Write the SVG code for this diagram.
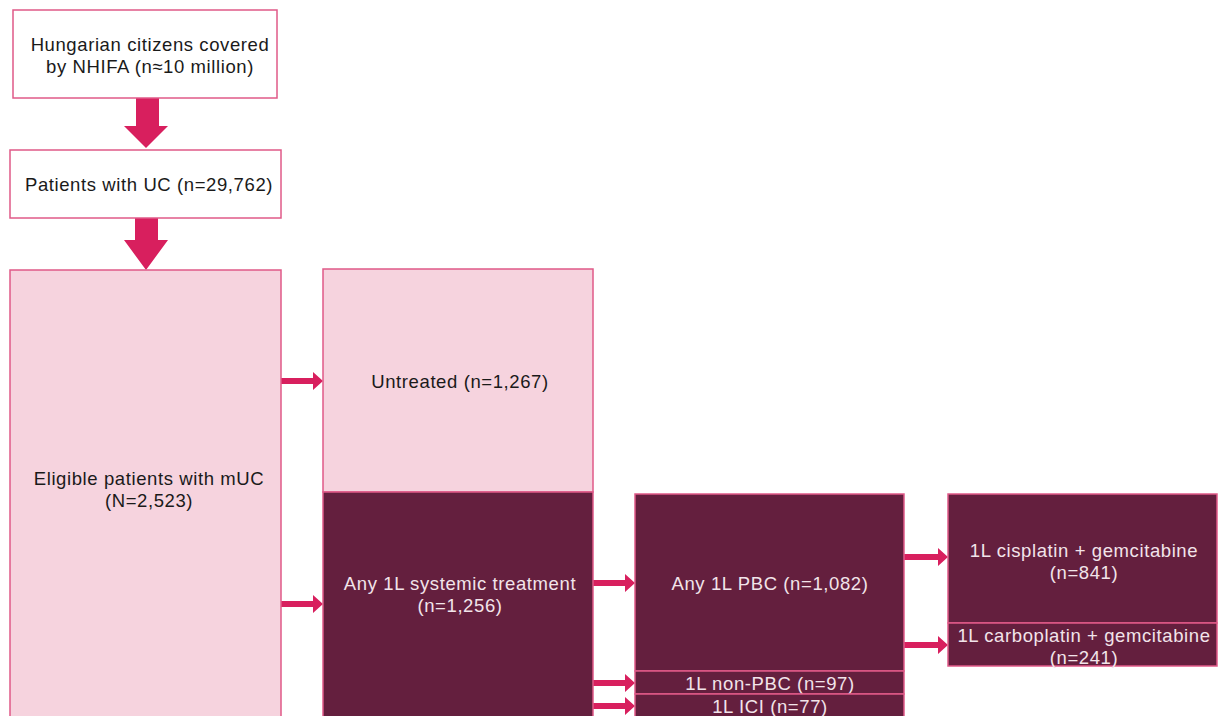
<svg xmlns="http://www.w3.org/2000/svg" width="1220" height="716" viewBox="0 0 1220 716">
<style>
.wbox{fill:#ffffff;stroke:#e05a88;stroke-width:1.5}
.pbox{fill:#f6d3de;stroke:#e05a88;stroke-width:1.5}
.dbox{fill:#641f3e;stroke:#e05a88;stroke-width:1.5}
.t{font-family:"Liberation Sans",Arial,sans-serif;font-size:18.5px;letter-spacing:0.6px;text-anchor:middle;fill:#1a1a1a}
.tw{font-family:"Liberation Sans",Arial,sans-serif;font-size:18.5px;letter-spacing:0.6px;text-anchor:middle;fill:#f2e4ea}
.arr{fill:#d81f5e}
</style>
<rect width="1220" height="716" fill="#ffffff"/>
<g id="connectors">
<polygon class="arr" points="136,98 159,98 159,126 168,126 146,148 124,126 136,126"/>
<polygon class="arr" points="135,218 158,218 158,240 168,240 146,270 124,240 135,240"/>
<polygon class="arr" points="281,378 313,378 313,372 323,381 313,390 313,384 281,384"/>
<polygon class="arr" points="281,601 313,601 313,595 323,604 313,613 313,607 281,607"/>
<polygon class="arr" points="593,580 625,580 625,574 635,583 625,592 625,586 593,586"/>
<polygon class="arr" points="593,680 625,680 625,674 635,683 625,692 625,686 593,686"/>
<polygon class="arr" points="593,703 625,703 625,697 635,706 625,715 625,709 593,709"/>
<polygon class="arr" points="904,554 938,554 938,548 948,557 938,566 938,560 904,560"/>
<polygon class="arr" points="904,642 938,642 938,636 948,645 938,654 938,648 904,648"/>
</g>
<g id="n_hungarian">
<rect class="wbox" x="13" y="10" width="264" height="88"/>
<text class="t" x="150" y="51">Hungarian citizens covered</text>
<text class="t" x="150" y="73">by NHIFA (n≈10 million)</text>
</g>
<g id="n_uc">
<rect class="wbox" x="10" y="150" width="271" height="68"/>
<text class="t" x="149" y="191">Patients with UC (n=29,762)</text>
</g>
<g id="n_eligible">
<rect class="pbox" x="10" y="270" width="271" height="450"/>
<text class="t" x="149" y="485">Eligible patients with mUC</text>
<text class="t" x="149" y="507">(N=2,523)</text>
</g>
<g id="n_untreated">
<rect class="pbox" x="323" y="269" width="270" height="223"/>
<text class="t" x="460" y="388">Untreated (n=1,267)</text>
</g>
<g id="n_any1l">
<rect class="dbox" x="323" y="492" width="270" height="230"/>
<text class="tw" x="460" y="590">Any 1L systemic treatment</text>
<text class="tw" x="460" y="612">(n=1,256)</text>
</g>
<g id="n_pbc">
<rect class="dbox" x="635" y="494" width="269" height="177"/>
<text class="tw" x="770" y="590">Any 1L PBC (n=1,082)</text>
</g>
<g id="n_nonpbc">
<rect class="dbox" x="635" y="671" width="269" height="23"/>
<text class="tw" x="770" y="690">1L non-PBC (n=97)</text>
</g>
<g id="n_ici">
<rect class="dbox" x="635" y="694" width="269" height="30"/>
<text class="tw" x="770" y="713">1L ICI (n=77)</text>
</g>
<g id="n_cis">
<rect class="dbox" x="948" y="494" width="269" height="129"/>
<text class="tw" x="1084" y="557">1L cisplatin + gemcitabine</text>
<text class="tw" x="1084" y="579">(n=841)</text>
</g>
<g id="n_carbo">
<rect class="dbox" x="948" y="623" width="269" height="43"/>
<text class="tw" x="1084" y="642">1L carboplatin + gemcitabine</text>
<text class="tw" x="1084" y="664">(n=241)</text>
</g>
</svg>
